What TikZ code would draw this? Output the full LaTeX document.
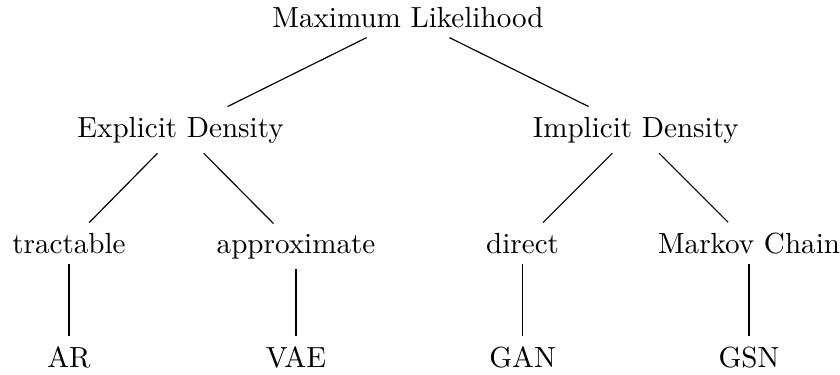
\documentclass[tikz,border=0pt]{standalone}
\begin{document}
\begin{tikzpicture}[x=0.3436pt, y=-0.3436pt,
  lbl/.style={anchor=base, inner sep=3.33pt},
  link/.style={draw=black, line width=0.4pt}]
\useasboundingbox (0,0) rectangle (840,374);
% level 0
\node[lbl] (ml) at (408,27) {Maximum Likelihood};
% level 1
\node[lbl] (exp) at (180.5,137) {Explicit Density};
\node[lbl] (imp) at (635.7,137) {Implicit Density};
% level 2
\node[lbl] (tra) at (69,253) {tractable};
\node[lbl] (app) at (296,253) {approximate};
\node[lbl] (dir) at (522.6,253) {direct};
\node[lbl] (mar) at (749,253) {Markov Chain};
% level 3
\node[lbl] (ar)  at (69,367) {AR};
\node[lbl] (vae) at (296,367) {VAE};
\node[lbl] (gan) at (522.6,367) {GAN};
\node[lbl] (gsn) at (749,367) {GSN};
% connectors
\draw[link] (ml) -- (exp);
\draw[link] (ml) -- (imp);
\draw[link] (exp) -- (tra);
\draw[link] (exp) -- (app);
\draw[link] (imp) -- (dir);
\draw[link] (imp) -- (mar);
\draw[link] (tra) -- (ar);
\draw[link] (app) -- (vae);
\draw[link] (dir) -- (gan);
\draw[link] (mar) -- (gsn);
\end{tikzpicture}
\end{document}
